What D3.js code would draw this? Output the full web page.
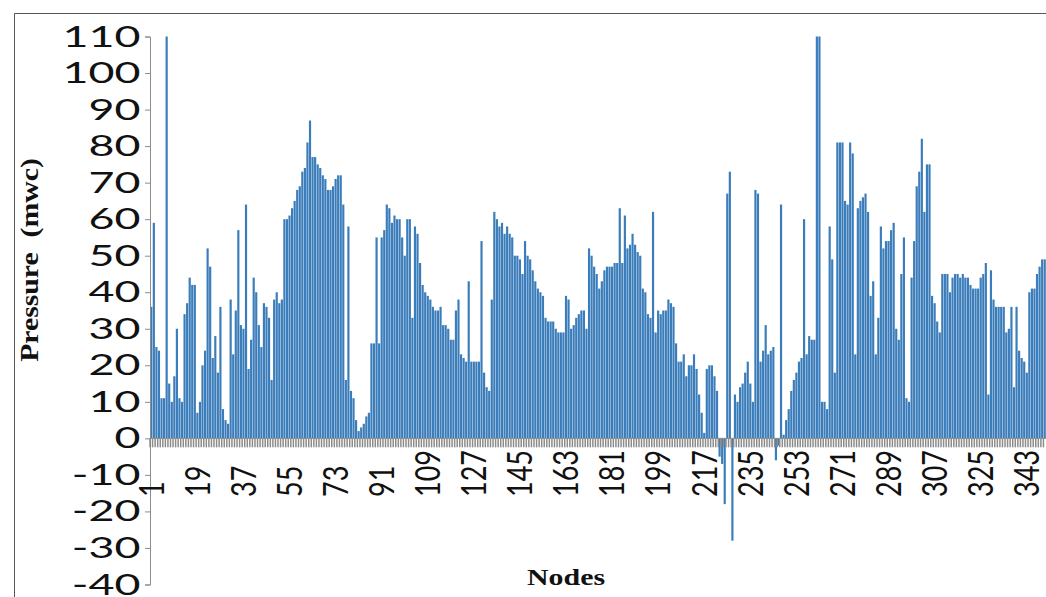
<!DOCTYPE html>
<html>
<head>
<meta charset="utf-8">
<script src="https://cdn.jsdelivr.net/npm/d3@7"></script>
<style>
  html, body { margin: 0; padding: 0; background: #fff; }
  svg { display: block; }
</style>
</head>
<body>
<svg id="chart" width="1046" height="597"></svg>
<script>
// Pressure head at each node (metres of water column), nodes 1..350
const pressure = [
  36, 59, 25, 24, 11, 11, 110, 15, 10, 17,
  30, 11, 10, 34, 37, 44, 42, 42, 7, 10,
  20, 24, 52, 47, 22, 28, 18, 36, 8, 5,
  4, 38, 23, 35, 57, 31, 30, 64, 19, 27,
  44, 40, 31, 25, 37, 36, 33, 16, 38, 40,
  37, 38, 60, 60, 61, 63, 65, 68, 69, 73,
  74, 81, 87, 77, 77, 75, 74, 72, 71, 68,
  68, 69, 71, 72, 72, 64, 16, 58, 13, 11,
  5, 2, 3, 4, 6, 7, 26, 26, 55, 26,
  55, 57, 64, 63, 59, 61, 60, 60, 55, 50,
  60, 60, 33, 58, 56, 48, 42, 40, 39, 38,
  36, 35, 35, 36, 31, 31, 30, 27, 27, 35,
  38, 23, 22, 21, 43, 21, 21, 21, 21, 54,
  18, 14, 13, 38, 62, 60, 58, 59, 56, 58,
  56, 55, 50, 50, 49, 45, 54, 50, 49, 46,
  43, 41, 40, 39, 33, 32, 32, 32, 30, 29,
  29, 29, 39, 38, 30, 31, 33, 34, 35, 35,
  30, 52, 50, 47, 45, 41, 43, 46, 47, 47,
  47, 48, 48, 63, 48, 61, 52, 53, 56, 53,
  51, 50, 41, 40, 34, 33, 62, 29, 35, 34,
  35, 35, 38, 37, 36, 26, 21, 21, 23, 17,
  20, 20, 23, 19, 12, 7, 1.5, 19, 20, 20,
  17, 13, -5, -7, -18, 67, 73, -28, 12, 10,
  14, 15, 18, 21, 15, 10, 68, 67, 21, 24,
  31, 23, 24, 25, -6, -2, 64, 1, 5, 8,
  13, 16, 18, 21, 22, 60, 23, 28, 27, 27,
  110, 110, 10, 10, 8, 58, 49, 18, 81, 81,
  81, 65, 64, 81, 78, 23, 63, 65, 66, 67,
  62, 39, 43, 23, 33, 58, 52, 54, 54, 57,
  59, 30, 27, 45, 55, 11, 10, 44, 54, 69,
  73, 82, 62, 75, 75, 39, 37, 32, 29, 45,
  45, 45, 40, 44, 45, 45, 44, 45, 44, 44,
  42, 41, 41, 41, 44, 45, 48, 12, 46, 38,
  36, 36, 36, 36, 29, 30, 36, 14, 36, 24,
  22, 21, 18, 40, 41, 41, 45, 47, 49, 49
];

// Node numbers (categories)
const nodes = pressure.map((_, i) => i + 1);

// Labelled nodes on the category axis
const nodeTickLabels = [1, 19, 37, 55, 73, 91, 109, 127, 145, 163, 181, 199, 217, 235, 253, 271, 289, 307, 325, 343];

// Value axis ticks
const pressureTicks = [-40, -30, -20, -10, 0, 10, 20, 30, 40, 50, 60, 70, 80, 90, 100, 110];

const svg = d3.select("#chart");
const W = 1046, H = 597;
const plotLeft = 150, plotRight = 1046;
const xLabelStretch = 1.3;    // horizontal stretch of the category lettering
const yLabelStretch = 1.6;    // horizontal stretch of the value lettering
const axisGrey = "#8c8c8c";
const barBlue = "#3b7dba";
const tickFont = "Lato, 'DejaVu Sans', sans-serif";
const titleFont = "'Liberation Serif', 'Times New Roman', serif";

const x = d3.scaleBand()
  .domain(nodes)
  .range([plotLeft, plotRight])
  .paddingInner(0.15)
  .paddingOuter(0.08);

const y = d3.scaleLinear()
  .domain([-40, 110])
  .range([584.5, 36.5]);

// frame
svg.append("line").attr("x1", 14.5).attr("x2", W).attr("y1", 13.5).attr("y2", 13.5)
  .attr("stroke", "#555").attr("stroke-width", 1);
svg.append("line").attr("x1", 14.5).attr("x2", 14.5).attr("y1", 13.5).attr("y2", H)
  .attr("stroke", "#555").attr("stroke-width", 1);

// bars
svg.append("g")
  .selectAll("rect")
  .data(nodes)
  .join("rect")
  .attr("x", d => x(d))
  .attr("width", x.bandwidth())
  .attr("y", d => y(Math.max(0, pressure[d - 1])))
  .attr("height", d => Math.abs(y(pressure[d - 1]) - y(0)))
  .attr("fill", barBlue);

// value axis
const yAxis = svg.append("g")
  .attr("transform", `translate(${plotLeft},0)`)
  .call(d3.axisLeft(y).tickValues(pressureTicks).tickSize(5).tickPadding(1).tickFormat(d => String(d)));
yAxis.select(".domain").attr("stroke", axisGrey);
yAxis.selectAll(".tick line").attr("stroke", axisGrey);
yAxis.selectAll(".tick text")
  .attr("font-family", tickFont)
  .attr("font-size", 28)
  .attr("fill", "#111")
  .attr("dy", "0.34em")
  .attr("transform", `scale(${yLabelStretch},1)`);

// category axis at zero
const y0 = y(0);
svg.append("line")
  .attr("x1", plotLeft).attr("x2", plotRight)
  .attr("y1", y0).attr("y2", y0)
  .attr("stroke", axisGrey).attr("stroke-width", 1);

// tick marks between categories
const step = x.step();
svg.append("g")
  .selectAll("line")
  .data(nodes)
  .join("line")
  .attr("x1", d => x(d) + x.bandwidth() / 2 - step / 2)
  .attr("x2", d => x(d) + x.bandwidth() / 2 - step / 2)
  .attr("y1", y0)
  .attr("y2", y0 + 9)
  .attr("stroke", axisGrey)
  .attr("stroke-width", 1.5);

// rotated category labels
svg.append("g")
  .selectAll("g")
  .data(nodeTickLabels)
  .join("g")
  .attr("transform", d => `translate(${x(d) + x.bandwidth() / 2},497) scale(${xLabelStretch},1) rotate(-90)`)
  .append("text")
  .attr("text-anchor", "start")
  .attr("dy", "0.35em")
  .attr("font-family", tickFont)
  .attr("font-size", 27)
  .attr("fill", "#111")
  .text(d => d);

// axis titles
svg.append("g")
  .attr("transform", `translate(566,585) scale(1.3,1)`)
  .append("text")
  .attr("text-anchor", "middle")
  .attr("font-family", titleFont)
  .attr("font-weight", "bold")
  .attr("font-size", 23)
  .attr("fill", "#111")
  .text("Nodes");

svg.append("g")
  .attr("transform", `translate(29,260) scale(1,1.19) rotate(-90)`)
  .append("text")
  .attr("text-anchor", "middle")
  .attr("dy", "0.35em")
  .attr("font-family", titleFont)
  .attr("font-weight", "bold")
  .attr("font-size", 25)
  .attr("fill", "#111")
  .style("white-space", "pre")
  .text("Pressure  (mwc)");
</script>
</body>
</html>
